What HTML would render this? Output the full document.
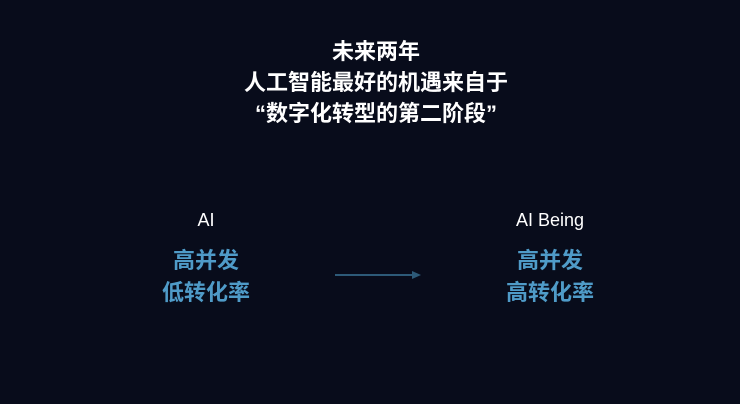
<!DOCTYPE html>
<html><head><meta charset="utf-8"><style>
html,body{margin:0;padding:0;}
body{width:740px;height:404px;background:#080c1b;position:relative;overflow:hidden;font-family:"Liberation Sans","Noto Sans CJK SC",sans-serif;}
.t{position:absolute;left:-4px;width:760px;text-align:center;color:#fff;font-weight:bold;font-size:22px;line-height:31px;top:36px;}
.c{position:absolute;text-align:center;width:200px;}
.h{color:#fff;font-size:18px;line-height:20px;}
.b{color:#4f9bc8;font-weight:bold;font-size:22px;line-height:32px;margin-top:15px;}
</style></head><body>
<div class="t">未来两年<br>人工智能最好的机遇来自于<br>“数字化转型的第二阶段”</div>
<div class="c" style="left:106px;top:210px"><div class="h">AI</div><div class="b">高并发<br>低转化率</div></div>
<div class="c" style="left:450px;top:210px"><div class="h">AI Being</div><div class="b">高并发<br>高转化率</div></div>
<svg style="position:absolute;left:0;top:0" width="740" height="404"><line x1="335" y1="275" x2="414" y2="275" stroke="#2d5a78" stroke-width="2"/><polygon points="412,271 421,275 412,279" fill="#2d5a78"/></svg>
</body></html>
